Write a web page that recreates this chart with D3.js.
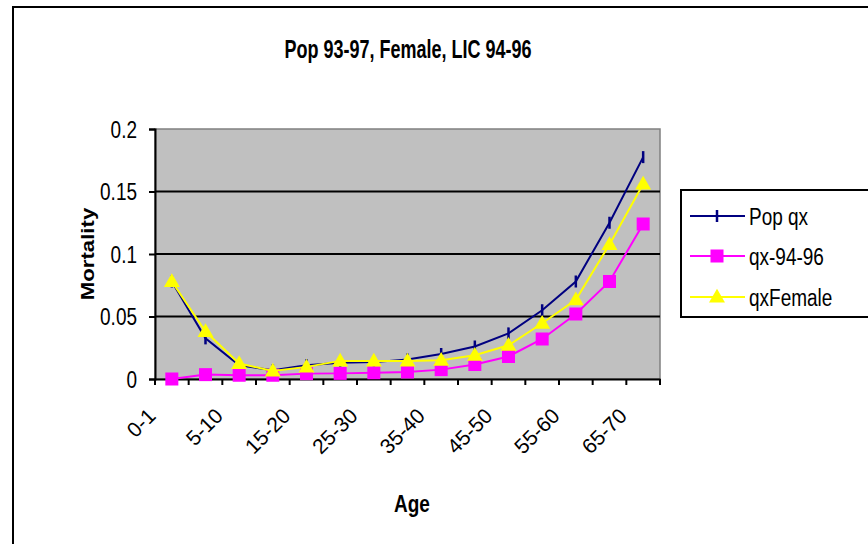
<!DOCTYPE html>
<html><head><meta charset="utf-8">
<script src="https://cdn.jsdelivr.net/npm/d3@7"></script>
<style>body{margin:0;background:#fff}svg{display:block}text{font-family:Arial,"Liberation Sans",sans-serif}</style>
</head><body><svg id="c" width="868" height="544"></svg>
<script>
const categories = ["0-1","1-5","5-10","10-15","15-20","20-25","25-30","30-35","35-40","40-45","45-50","50-55","55-60","60-65","65-70"];
const popQx    = [0.078,0.0325,0.011,0.007,0.011,0.013,0.0135,0.0156,0.020,0.026,0.0365,0.055,0.078,0.125,0.1775];
const qx9496   = [0.0,0.0035,0.003,0.003,0.0043,0.0045,0.005,0.0056,0.0075,0.0116,0.018,0.032,0.052,0.078,0.124];
const qxFemale = [0.078,0.038,0.0124,0.0065,0.0097,0.0145,0.0145,0.0145,0.015,0.019,0.027,0.0446,0.0634,0.1077,0.156];
const yTicks = [0,0.05,0.1,0.15,0.2];
const seriesNames = ["Pop qx","qx-94-96","qxFemale"];

const SY = 1.3; // vertical stretch of the original text
const svg = d3.select("#c");
const L=155,R=660,T=129,B=379;
const x = d3.scaleBand().domain(categories).range([L,R]).padding(0);
const y = d3.scaleLinear().domain([0,0.2]).range([B,T]);

function stext(parent, px, py, str, size, opts={}){
  const sy = opts.sy===undefined?SY:opts.sy;
  const t = parent.append("text")
    .attr("transform",`translate(${px},${py})${opts.rot!==undefined?` rotate(${opts.rot})`:""} scale(${opts.sx||1},${sy})`)
    .attr("font-size",size).attr("text-anchor",opts.anchor||"start").attr("fill","#000")
    .text(str);
  if(opts.bold) t.attr("font-weight","bold");
  if(opts.dy) t.attr("dy",opts.dy);
  return t;
}

// outer frame
svg.append("rect").attr("x",13).attr("y",7).attr("width",900).attr("height",600).attr("fill","none").attr("stroke","#000").attr("stroke-width",2);

// title
stext(svg,408,58,"Pop 93-97, Female, LIC 94-96",18,{anchor:"middle",bold:true,sy:1.4});

// plot area
svg.append("rect").attr("x",L).attr("y",T).attr("width",R-L).attr("height",B-T).attr("fill","#C0C0C0").attr("stroke","#808080").attr("stroke-width",1.5);
svg.append("g").selectAll("line").data(yTicks.slice(1,4)).join("line")
  .attr("x1",L).attr("x2",R).attr("y1",d=>y(d)).attr("y2",d=>y(d)).attr("stroke","#000").attr("stroke-width",2);

// y axis
const ya = svg.append("g").attr("transform",`translate(${L},0)`)
  .call(d3.axisLeft(y).tickValues(yTicks).tickFormat("").tickSize(6));
ya.select(".domain").attr("stroke","#000").attr("stroke-width",2);
ya.selectAll(".tick line").attr("stroke","#000").attr("stroke-width",2);
yTicks.forEach(v=>stext(svg,137,y(v),String(v),19,{anchor:"end",dy:"0.36em"}));

// x axis
const xa = svg.append("g").attr("transform",`translate(0,${B})`)
  .call(d3.axisBottom(x).tickSize(0).tickFormat(""));
xa.select(".domain").attr("stroke","#000").attr("stroke-width",2);
const bounds = categories.map(c=>x(c)).concat([R]);
svg.append("g").selectAll("line").data(bounds).join("line")
  .attr("x1",d=>d).attr("x2",d=>d).attr("y1",B).attr("y2",B+6).attr("stroke","#000").attr("stroke-width",2);
categories.forEach((c,i)=>{
  if(i%2===0) stext(svg,x(c)+x.bandwidth()/2-20,B+33,c,21,{anchor:"end",rot:-45,dy:"0.35em",sy:1});
});

// axis titles
stext(svg,94,(T+B)/2,"Mortality",17.5,{anchor:"middle",bold:true,rot:-90,sx:1.27,sy:1});
stext(svg,412,512,"Age",19,{anchor:"middle",bold:true});

// series
const cx = c=>x(c)+x.bandwidth()/2;
const series = [
  {name:seriesNames[0], vals:popQx, color:"#000080", marker:"dash"},
  {name:seriesNames[1], vals:qx9496, color:"#FF00FF", marker:"square"},
  {name:seriesNames[2], vals:qxFemale, color:"#FFFF00", marker:"triangle"}
];
const line = d3.line().x((d,i)=>cx(categories[i])).y(d=>y(d));
function drawMarker(g, m, color){
  if(m==="dash") g.append("line").attr("x1",0).attr("x2",0).attr("y1",-6).attr("y2",6).attr("stroke",color).attr("stroke-width",2.5);
  else if(m==="square") g.append("rect").attr("x",-6.5).attr("y",-6.5).attr("width",13).attr("height",13).attr("fill",color);
  else g.append("path").attr("d",d3.symbol().type(d3.symbolTriangle).size(110)()).attr("transform","translate(0,1)").attr("fill",color);
}
series.forEach(s=>{
  svg.append("path").datum(s.vals).attr("d",line).attr("fill","none").attr("stroke",s.color).attr("stroke-width",2);
  s.vals.forEach((v,i)=>{
    const g = svg.append("g").attr("transform",`translate(${cx(categories[i])},${y(v)})`);
    drawMarker(g,s.marker,s.color);
  });
});

// legend
const lg = svg.append("g");
lg.append("rect").attr("x",681).attr("y",190).attr("width",220).attr("height",127).attr("fill","#fff").attr("stroke","#000").attr("stroke-width",2);
const rows=[216,256,297];
series.forEach((s,i)=>{
  lg.append("line").attr("x1",690).attr("x2",745).attr("y1",rows[i]).attr("y2",rows[i]).attr("stroke",s.color).attr("stroke-width",2);
  const g = lg.append("g").attr("transform",`translate(717,${rows[i]})`);
  drawMarker(g,s.marker,s.color);
  stext(lg,749,rows[i],s.name,19,{dy:"0.36em"});
});
</script></body></html>
